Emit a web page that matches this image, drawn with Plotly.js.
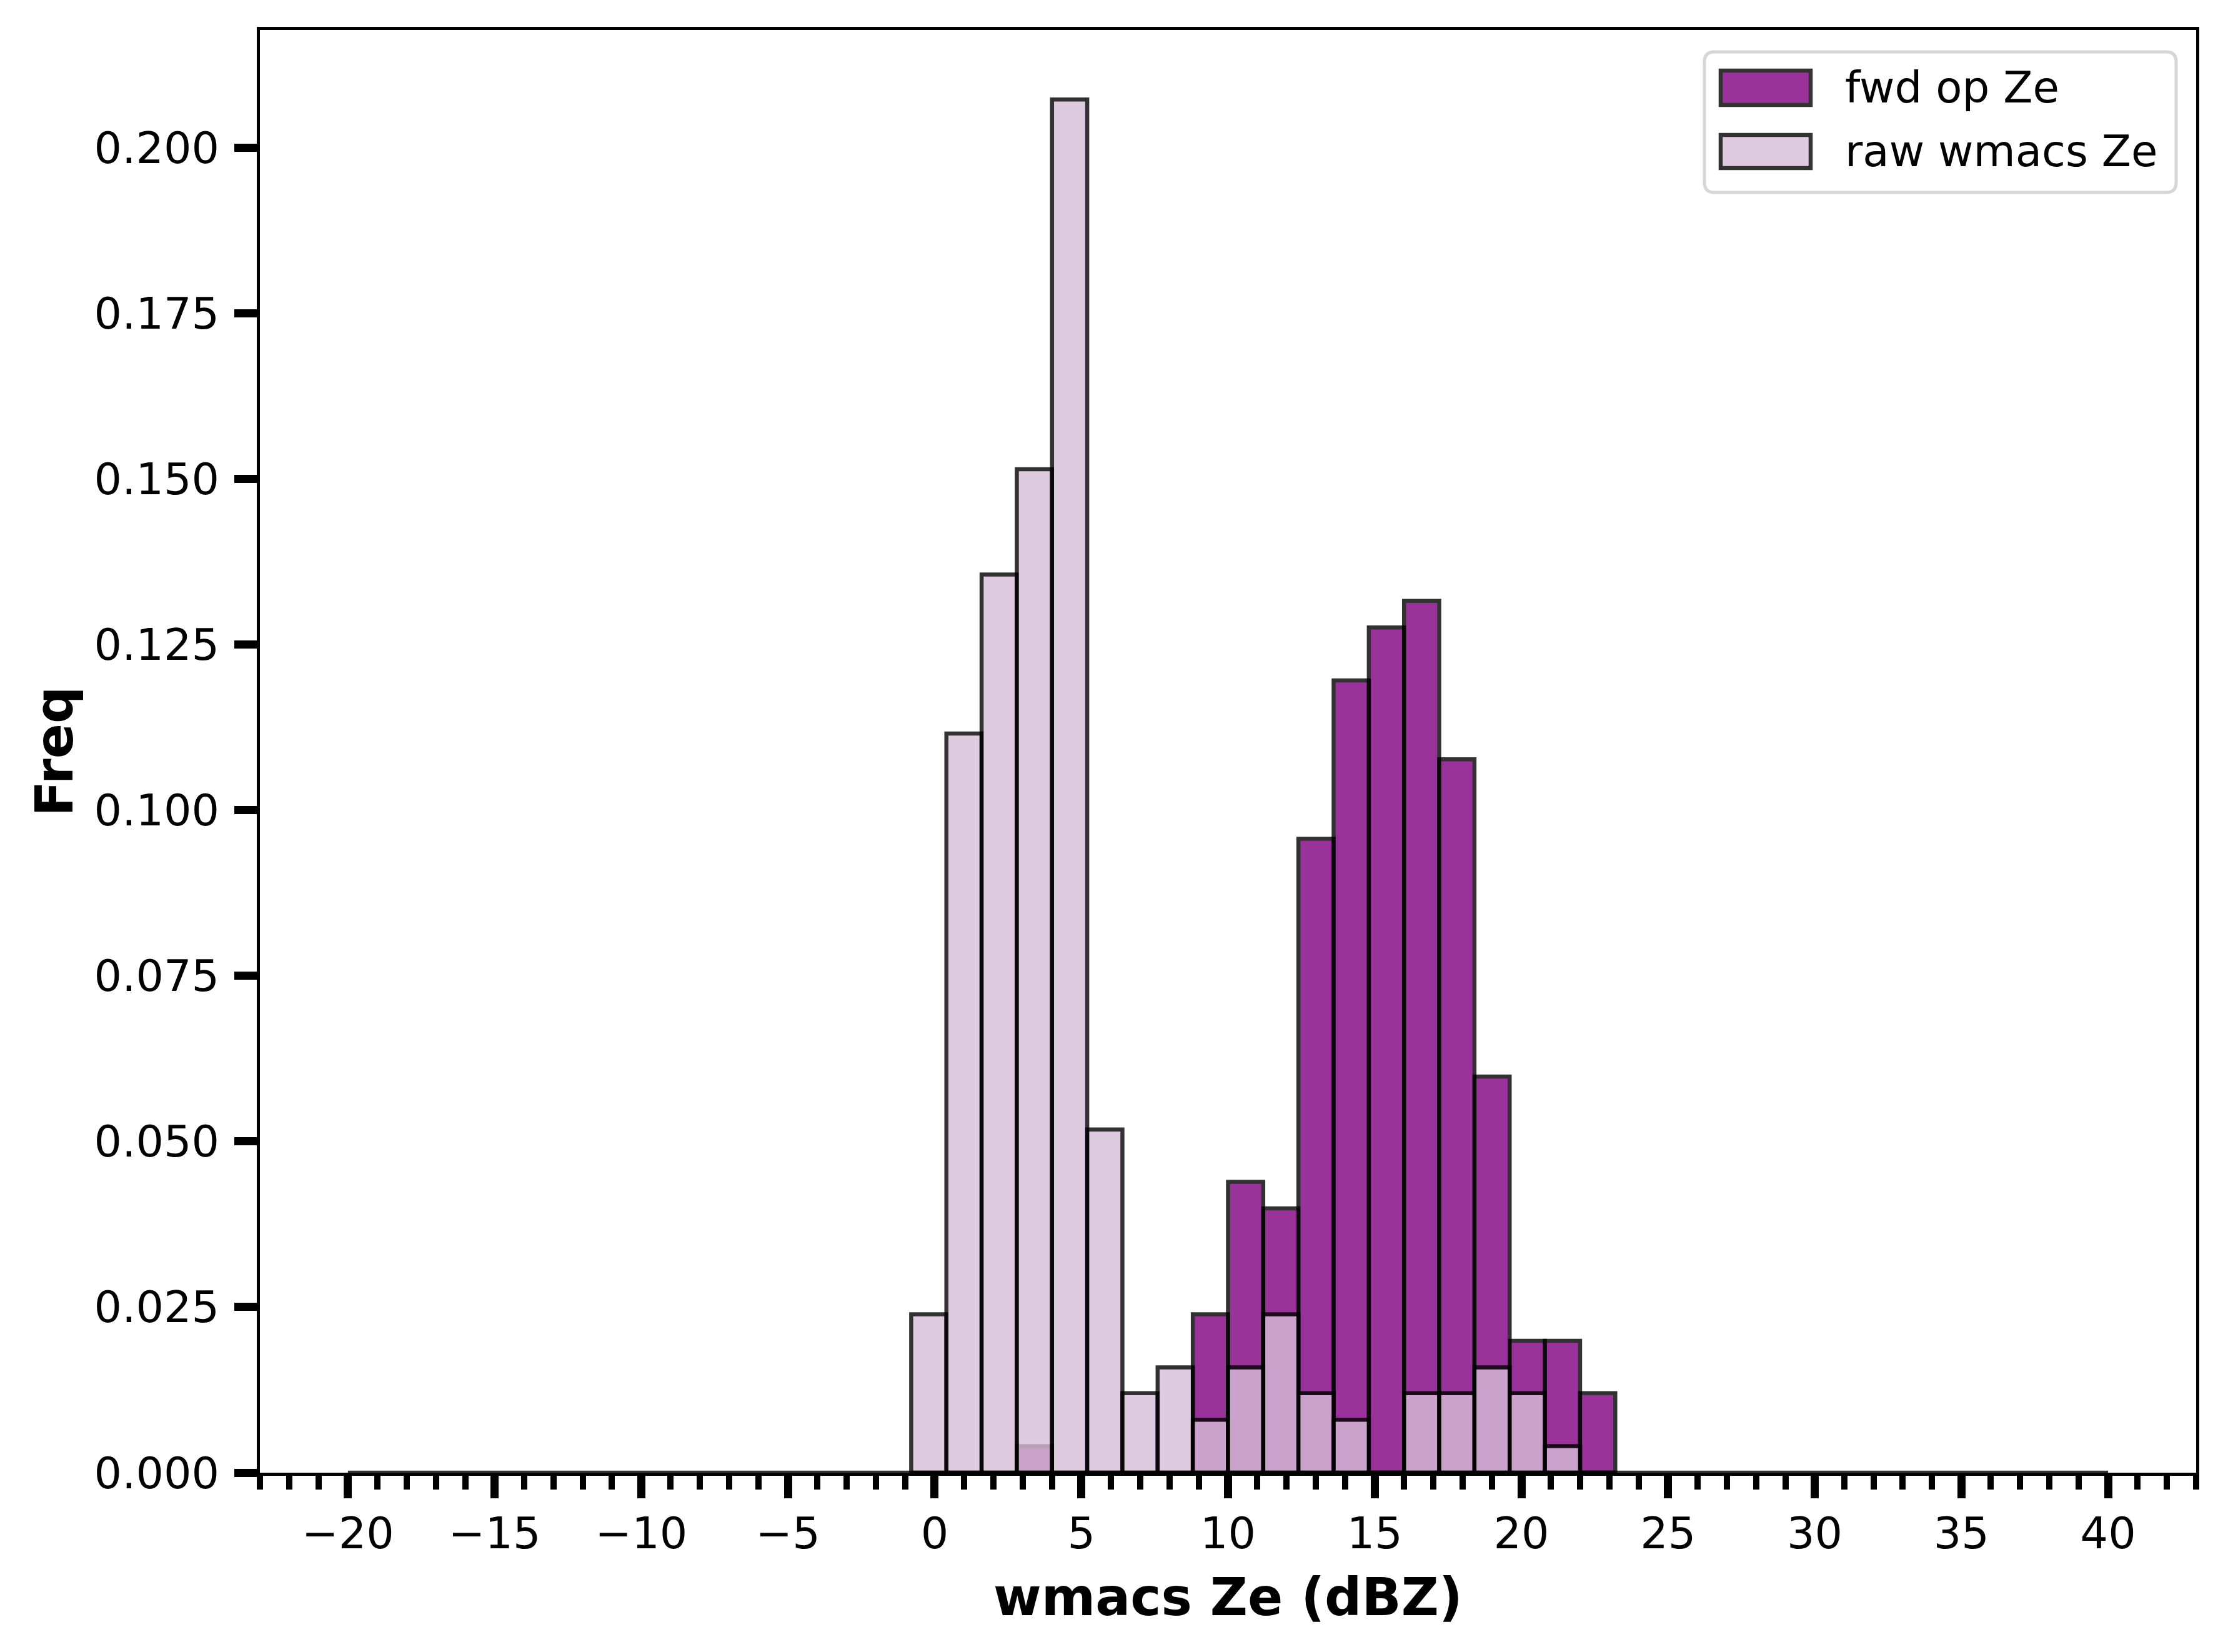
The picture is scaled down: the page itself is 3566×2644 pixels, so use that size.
<!DOCTYPE html>
<html>
<head>
<meta charset="utf-8">
<script src="https://cdn.plot.ly/plotly-3.0.1.min.js"></script>
<style>
  html, body { margin: 0; padding: 0; background: white; }
  #myDiv { width: 3566px; height: 2644px; }
</style>
</head>
<body>
<div id="myDiv"></div>
<script>
// histogram bins (dBZ), 50 bins of 1.2 over [-20, 40]; only the occupied ones listed
var histRange = [-20, 40];
var binWidth = 1.2;
var binLeft = [-0.8, 0.4, 1.6, 2.8, 4.0, 5.2, 6.4, 7.6, 8.8, 10.0,
               11.2, 12.4, 13.6, 14.8, 16.0, 17.2, 18.4, 19.6, 20.8, 22.0];

// normalised frequencies
var fwdFreq = [0, 0, 0, 0.0040, 0, 0, 0, 0, 0.0239, 0.0439,
               0.0399, 0.0957, 0.1196, 0.1276, 0.1316, 0.1077, 0.0598, 0.0199, 0.0199, 0.0120];
var rawFreq = [0.0239, 0.1116, 0.1356, 0.1515, 0.2073, 0.0518, 0.0120, 0.0159, 0.0080, 0.0159,
               0.0239, 0.0120, 0.0080, 0, 0.0120, 0.0120, 0.0159, 0.0120, 0.0040, 0];

var seriesNames = ["fwd op Ze", "raw wmacs Ze"];
var seriesColors = ["#800080", "#D8BFD8"];

var yTicks = [0, 0.025, 0.05, 0.075, 0.1, 0.125, 0.15, 0.175, 0.2];

var binCenter = binLeft.map(function(b) { return b + binWidth / 2; });

var W = 3566, H = 2644;
var M = { l: 416, r: 51, t: 48, b: 287 };
var font = "DejaVu Sans, Liberation Sans, sans-serif";
var edgeW = 6.5;

// pixel -> paper helpers for the hand made legend
function px(x) { return (x - M.l) / (W - M.l - M.r); }
function py(y) { return (H - M.b - y) / (H - M.t - M.b); }

function roundRect(x0, y0, x1, y1, r) {
  var rx = r / (W - M.l - M.r), ry = r / (H - M.t - M.b);
  var a = px(x0), b = px(x1), top = py(y0), bot = py(y1);
  return "M" + (a + rx) + "," + top +
    " L" + (b - rx) + "," + top + " Q" + b + "," + top + " " + b + "," + (top - ry) +
    " L" + b + "," + (bot + ry) + " Q" + b + "," + bot + " " + (b - rx) + "," + bot +
    " L" + (a + rx) + "," + bot + " Q" + a + "," + bot + " " + a + "," + (bot + ry) +
    " L" + a + "," + (top - ry) + " Q" + a + "," + top + " " + (a + rx) + "," + top + " Z";
}

var data = [
  {
    type: "bar",
    name: seriesNames[0],
    x: binCenter,
    y: fwdFreq,
    width: binWidth,
    marker: { color: seriesColors[0], opacity: 0.8, line: { color: "black", width: edgeW } }
  },
  {
    type: "bar",
    name: seriesNames[1],
    x: binCenter,
    y: rawFreq,
    width: binWidth,
    marker: { color: seriesColors[1], opacity: 0.8, line: { color: "black", width: edgeW } }
  }
];

var shapes = [
  // empty bins still carry an edge along y = 0
  { type: "line", xref: "x", yref: "y", x0: histRange[0], x1: histRange[1], y0: 0, y1: 0,
    line: { color: "rgba(0,0,0,0.8)", width: edgeW }, layer: "above" },
  { type: "path", xref: "paper", yref: "paper", path: roundRect(2728, 83, 3483, 308, 16),
    fillcolor: "rgba(255,255,255,0.8)", line: { color: "rgba(204,204,204,0.8)", width: 5 }, layer: "above" }
];
var annotations = [];
var rows = [[113, 168, 140], [216, 269, 242]];
for (var i = 0; i < 2; i++) {
  shapes.push({
    type: "rect", xref: "paper", yref: "paper",
    x0: px(2754), x1: px(2898), y0: py(rows[i][1]), y1: py(rows[i][0]),
    fillcolor: seriesColors[i], opacity: 0.8,
    line: { color: "black", width: edgeW }, layer: "above"
  });
  annotations.push({
    xref: "paper", yref: "paper", x: px(2951), y: py(rows[i][2]),
    xanchor: "left", yanchor: "middle", showarrow: false,
    text: seriesNames[i], font: { family: font, size: 69, color: "black" }
  });
}

var layout = {
  width: W,
  height: H,
  margin: M,
  barmode: "overlay",
  bargap: 0,
  showlegend: false,
  paper_bgcolor: "white",
  plot_bgcolor: "white",
  font: { family: font, size: 70, color: "black" },
  xaxis: {
    range: [-23, 43],
    tick0: 0,
    dtick: 5,
    ticks: "outside",
    ticklen: 36,
    tickwidth: 13,
    tickcolor: "black",
    ticklabelstandoff: -4,
    minor: { dtick: 1, ticks: "outside", ticklen: 22, tickwidth: 10, tickcolor: "black", showgrid: false },
    showline: true,
    linecolor: "black",
    linewidth: 5,
    mirror: true,
    showgrid: false,
    zeroline: false,
    tickfont: { family: font, size: 70 },
    title: { text: "<b>wmacs Ze (dBZ)</b>", font: { family: font, size: 83 }, standoff: 34 }
  },
  yaxis: {
    range: [0, 0.2178],
    tickvals: yTicks,
    tickformat: ".3f",
    ticks: "outside",
    ticklen: 36,
    tickwidth: 13,
    tickcolor: "black",
    ticklabelstandoff: 10,
    showline: true,
    linecolor: "black",
    linewidth: 5,
    mirror: true,
    showgrid: false,
    zeroline: false,
    tickfont: { family: font, size: 70 },
    title: { text: "<b>Freq</b>", font: { family: font, size: 83 }, standoff: 8 }
  },
  shapes: shapes,
  annotations: annotations
};

Plotly.newPlot("myDiv", data, layout, { staticPlot: true });
</script>
</body>
</html>
